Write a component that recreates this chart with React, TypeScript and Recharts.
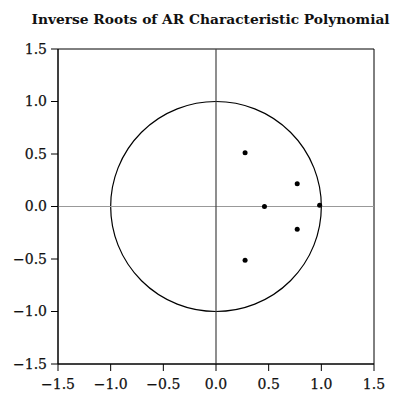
import { ScatterChart, Scatter, XAxis, YAxis, ReferenceLine, ReferenceArea } from 'recharts';

// inverse roots (real, imaginary)
const rootRe = [0.276, 0.771, 0.46, 0.984, 0.771, 0.276];
const rootIm = [0.512, 0.216, 0.0, 0.012, -0.216, -0.512];
const ticks = [-1.5, -1.0, -0.5, 0.0, 0.5, 1.0, 1.5];

const roots = rootRe.map((re, i) => ({ re, im: rootIm[i] }));

const fmt = (v: number) => (v < 0 ? '\u2212' + Math.abs(v).toFixed(1) : v.toFixed(1));

const tickStyle = { fill: '#111', fontSize: 14, fontFamily: 'DejaVu Serif', stroke: '#111', strokeWidth: 0.25 };

// unit circle drawn from the area's own box (x/y from -1 to 1)
const UnitCircle = (props: any) => {
  const { x, y, width, height } = props;
  return (
    <ellipse
      cx={x + width / 2}
      cy={y + height / 2}
      rx={width / 2}
      ry={height / 2}
      fill="none"
      stroke="#000"
      strokeWidth={1.2}
    />
  );
};

const Dot = (props: any) => <circle cx={props.cx} cy={props.cy} r={2.5} fill="#000" />;

const App = () => {
  return (
    <div style={{ position: 'absolute', left: 0, top: 0, width: 393, height: 394, background: '#fff' }}>
      <div
        style={{
          position: 'absolute',
          left: 0,
          width: 393,
          top: 11,
          textAlign: 'center',
          fontFamily: 'DejaVu Serif',
          fontSize: 13.8,
          fontWeight: 'bold',
          color: '#111',
          paddingLeft: 28,
          boxSizing: 'border-box',
          whiteSpace: 'nowrap',
        }}
      >
        Inverse Roots of AR Characteristic Polynomial
      </div>
      <ScatterChart width={393} height={394} margin={{ top: 49, right: 19, bottom: 0, left: 8 }}>
        <XAxis
          type="number"
          dataKey="re"
          domain={[-1.5, 1.5]}
          ticks={ticks}
          tickFormatter={fmt}
          height={30}
          tickSize={7}
          tickMargin={8}
          stroke="#000"
          tick={tickStyle}
          allowDataOverflow
        />
        <YAxis
          type="number"
          dataKey="im"
          domain={[-1.5, 1.5]}
          ticks={ticks}
          tickFormatter={fmt}
          width={50}
          tickSize={7}
          tickMargin={4}
          stroke="#000"
          tick={tickStyle}
          allowDataOverflow
        />
        <ReferenceArea x1={-1.5} x2={1.5} y1={-1.5} y2={1.5} fill="none" stroke="#000" strokeWidth={1} />
        <ReferenceLine y={0} stroke="#999" strokeWidth={1} />
        <ReferenceLine x={0} stroke="#444" strokeWidth={1.2} />
        <ReferenceArea x1={-1} x2={1} y1={-1} y2={1} shape={UnitCircle} />
        <Scatter data={roots} shape={Dot} isAnimationActive={false} />
      </ScatterChart>
    </div>
  );
};

export default App;
